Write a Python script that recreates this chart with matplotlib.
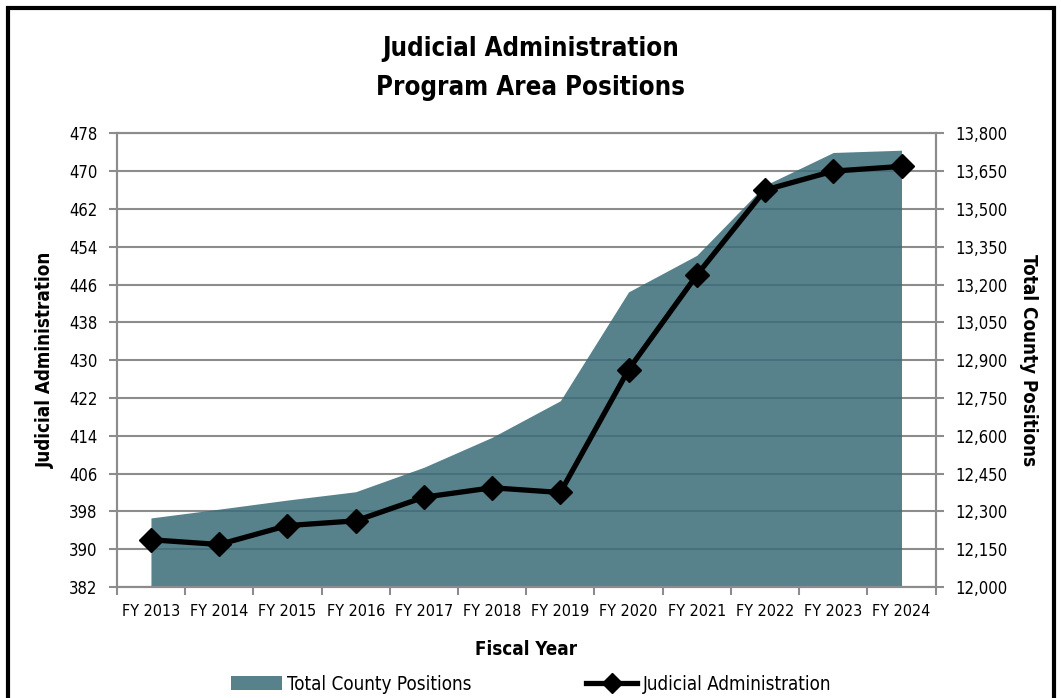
import matplotlib.pyplot as plt
import numpy as np
from matplotlib.patches import Patch, Rectangle
from matplotlib.lines import Line2D

# Datos
years = ['FY 2013', 'FY 2014', 'FY 2015', 'FY 2016', 'FY 2017', 'FY 2018',
         'FY 2019', 'FY 2020', 'FY 2021', 'FY 2022', 'FY 2023', 'FY 2024']
judicial = [392, 391, 395, 396, 401, 403, 402, 428, 448, 466, 470, 471]
total_county = [12274, 12309, 12345, 12378, 12475, 12594, 12739,
                13171, 13316, 13594, 13724, 13733]
left_ticks = list(range(382, 479, 8))
right_ticks = list(range(12000, 13801, 150))

# Fuente condensada (DejaVu Sans Condensed)
plt.rcParams['font.family'] = ['DejaVu Sans']
plt.rcParams['font.stretch'] = 'condensed'

area_color = (58/255, 108/255, 120/255)
grid_color = '#8c8c8c'

fig = plt.figure(figsize=(10.62, 6.98), dpi=100)
ax = fig.add_axes([0.110, 0.159, 0.771, 0.650])
ax2 = ax.twinx()
ax.set_zorder(ax2.get_zorder() + 1)
ax.patch.set_visible(False)
ax2.patch.set_visible(True)
ax2.patch.set_facecolor('white')

x = np.arange(len(years))

# Área total del condado (eje derecho)
ax2.grid(axis='y', color=grid_color, linewidth=1.5)
ax2.set_axisbelow(True)
ax2.fill_between(x, 12000, total_county, color=area_color, alpha=0.85,
                 linewidth=0, zorder=2)
ax2.set_ylim(12000, 13800)
ax2.set_yticks(right_ticks)
ax2.set_yticklabels([f'{v:,}' for v in right_ticks])

# Línea judicial (eje izquierdo)
ax.plot(x, judicial, color='black', linewidth=3.8, marker='D',
        markersize=12, clip_on=False, zorder=5)
ax.set_ylim(382, 478)
ax.set_yticks(left_ticks)
ax.set_xlim(-0.5, 11.5)
ax.set_xticks(x)
ax.set_xticklabels(years)

for a in (ax, ax2):
    for s in a.spines.values():
        s.set_color(grid_color)
        s.set_linewidth(1.5)
    a.tick_params(colors=grid_color, labelcolor='black', labelsize=12,
                  width=1.5, length=6)
ax.tick_params(axis='y', pad=8)
ax2.tick_params(axis='y', pad=8)
ax.tick_params(axis='x', pad=12)

ax.set_xticks(np.arange(-0.5, 12, 1), minor=True)
ax.tick_params(axis='x', which='major', length=0, labelsize=11.5)
ax.tick_params(axis='x', which='minor', length=6, color=grid_color, width=1.5)

ax.set_xlabel('Fiscal Year', fontsize=13.5, fontweight='bold', labelpad=15)
ax.set_ylabel('Judicial Administration', fontsize=13.5, fontweight='bold', labelpad=10)
ax2.set_ylabel('Total County Positions', fontsize=13.5, fontweight='bold',
               rotation=270, labelpad=22)

fig.suptitle('Judicial Administration\nProgram Area Positions', fontsize=18.5,
             fontweight='bold', y=0.948, linespacing=1.65)

handles = [Patch(facecolor=area_color, alpha=0.85),
           Line2D([], [], color='black', linewidth=3.8, marker='D', markersize=10)]
fig.legend(handles, ['Total County Positions', 'Judicial Administration'],
           loc='center', bbox_to_anchor=(0.5, 0.02), ncol=2, frameon=False,
           fontsize=13.5, handlelength=2.7, handletextpad=0.3, columnspacing=6.1)

# Marco negro alrededor
fig.patches.append(Rectangle((0.008, -0.05), 0.984, 1.038, transform=fig.transFigure,
                             fill=False, edgecolor='black', linewidth=3))

fig.savefig('out.png', dpi=100)
